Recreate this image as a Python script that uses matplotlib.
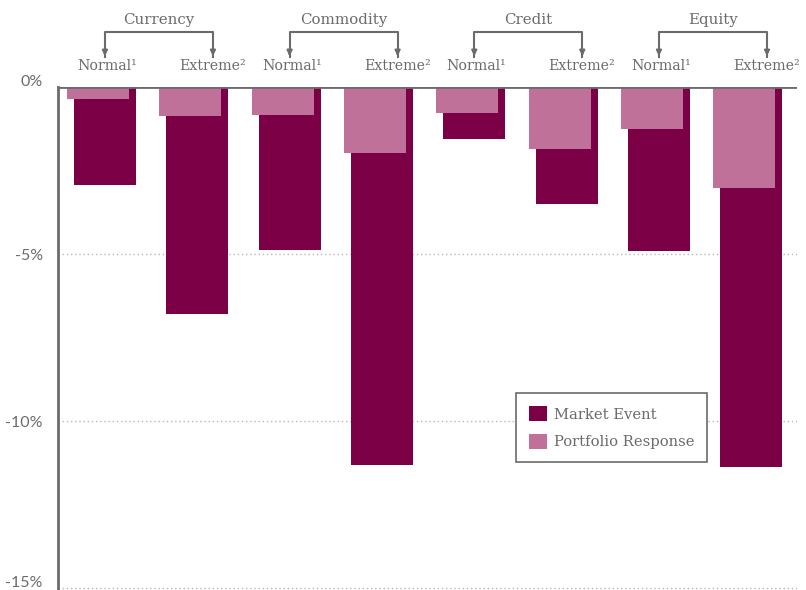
import matplotlib.pyplot as plt
import matplotlib.transforms as mtrans
from matplotlib.patches import Patch

# data (percent)
categories = ['Currency', 'Commodity', 'Credit', 'Equity']
scenarios = ['Normal\u00b9', 'Extreme\u00b2']
market_event = [-2.93, -6.8, -4.88, -11.32, -1.56, -3.5, -4.91, -11.38]
portfolio_response = [-0.36, -0.87, -0.84, -1.98, -0.78, -1.86, -1.26, -3.02]
y_ticks = [0, -5, -10, -15]
y_tick_labels = ['0%', '-5%', '-10%', '-15%']

dark = '#7B0046'
pink = '#C0719A'
grey = '#6b6b6b'

fig = plt.figure(figsize=(8.06, 5.9), dpi=100)
ax = fig.add_axes([58 / 806, 0.0, (797 - 58) / 806, 1 - 87 / 590])

xs = list(range(len(market_event)))
w = 0.67
ax.bar([x + 0.075 for x in xs], market_event, width=w, color=dark, zorder=2)
ax.bar(xs, portfolio_response, width=w, color=pink, zorder=3)

ax.set_xlim(-0.433, 7.57)
ax.set_ylim(-(590 - 87) / 33.4, 0)

# gridlines and zero line
for t in y_ticks[1:]:
    ax.axhline(t, color='#b8b8b8', lw=1, ls=(0, (1, 2)), zorder=1)
ax.axhline(0, color=grey, lw=2, zorder=4)

for s in ['top', 'right', 'bottom']:
    ax.spines[s].set_visible(False)
ax.spines['left'].set_color(grey)
ax.spines['left'].set_linewidth(2)
ax.set_xticks([])
ax.set_yticks(y_ticks)
ax.set_yticklabels(y_tick_labels, fontsize=11.5, color=grey, family='Lato')
ax.tick_params(axis='y', length=0, pad=11)
labels = ax.get_yticklabels()
up = mtrans.ScaledTranslation(0, 5 / 72, fig.dpi_scale_trans)
labels[0].set_transform(labels[0].get_transform() + up)
labels[3].set_transform(labels[3].get_transform() + up)

# header labels with brackets
tr = ax.get_xaxis_transform()
serif = 'DejaVu Serif'
for c, name in enumerate(categories):
    i = 2 * c
    xn = i + 0.075
    xe = i + 1 + 0.245
    ax.text(i + 0.1, 1.042, scenarios[0], transform=tr, ha='center', va='center',
            fontsize=10.2, color=grey, family=serif)
    ax.text(i + 1 + 0.24, 1.042, scenarios[1], transform=tr, ha='center', va='center',
            fontsize=10.2, color=grey, family=serif)
    ax.text((xn + xe) / 2, 1.134, name, transform=tr, ha='center', va='center',
            fontsize=10.8, color=grey, family=serif)
    ax.plot([xn, xn, xe, xe], [1.06, 1.109, 1.109, 1.06], transform=tr,
            color=grey, lw=1.5, clip_on=False)
    for xa in (xn, xe):
        ax.annotate('', xy=(xa, 1.056), xytext=(xa, 1.075), xycoords=tr,
                    textcoords=tr,
                    arrowprops=dict(arrowstyle='-|>,head_width=0.15,head_length=0.3',
                                    color=grey, lw=1.5))

handles = [Patch(facecolor=dark, label='Market Event'),
           Patch(facecolor=pink, label='Portfolio Response')]
leg = ax.legend(handles=handles, loc='upper left',
                bbox_to_anchor=((516 - 58) / 739, 1 - (393 - 87) / 503),
                frameon=True, fancybox=False, edgecolor=grey, framealpha=1,
                prop={'family': serif, 'size': 10.6}, handlelength=1.2, handleheight=1.2,
                handletextpad=0.45, borderpad=0.9, labelspacing=0.8, borderaxespad=0)
leg.get_frame().set_linewidth(1.2)
for t in leg.get_texts():
    t.set_color(grey)

fig.savefig('out.png', dpi=100)
